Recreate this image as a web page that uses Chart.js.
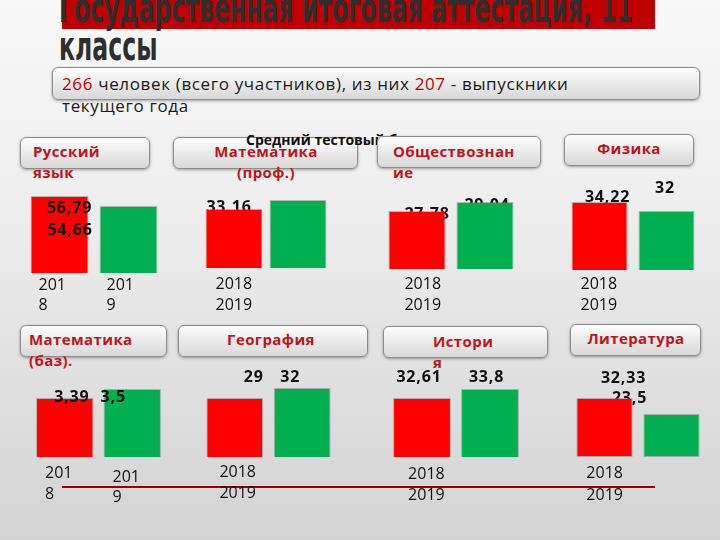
<!DOCTYPE html>
<html><head><meta charset="utf-8">
<script src="https://cdn.jsdelivr.net/npm/chart.js@4.4.1/dist/chart.umd.min.js"></script>
<style>
html,body{margin:0;padding:0;}
body{width:720px;height:540px;position:relative;overflow:hidden;background:linear-gradient(#f8f8f8 0%,#efefef 35%,#d3d3d3 100%);font-family:"Open Sans","Noto Sans",sans-serif;}
.abs{position:absolute;}
#redbar{left:62px;top:0;width:593px;height:29px;background:#c00000;}
#title{left:59px;top:-11px;font-family:"Liberation Sans Narrow","DejaVu Sans Condensed",sans-serif;font-weight:bold;font-size:40px;line-height:38px;color:#2e2e2e;white-space:nowrap;transform-origin:0 0;}
#title span{display:inline-block;}
.box{position:absolute;border:1px solid #8c8c8c;border-radius:6px;background:linear-gradient(#fdfdfd,#d8d8d8);box-shadow:0 1px 3px rgba(0,0,0,0.35);box-sizing:border-box;}
#subtext{left:62px;top:73px;font-size:17px;letter-spacing:0.65px;line-height:22px;color:#1a1a1a;white-space:nowrap;}
.num{color:#c00000}
.btxt{position:absolute;font-weight:bold;font-size:15px;letter-spacing:0.4px;line-height:21px;color:#c0141c;white-space:nowrap;}
#avg{left:246px;top:130px;font-weight:bold;font-size:14px;color:#111;white-space:nowrap;}
#hline{left:62px;top:486px;width:593px;height:2px;background:#a00000;}
canvas{position:absolute;}
</style></head>
<body>
<div id="redbar" class="abs"></div>
<div id="title" class="abs"><span id="t1">Государственная итоговая аттестация, 11</span><br><span id="t2">классы</span></div>
<div class="box" style="left:52px;top:67px;width:648px;height:33px;"></div>
<div id="subtext" class="abs"><span class="num">266</span> человек (всего участников), из них <span class="num">207</span> - выпускники<br>текущего года</div>
<div id="btns"></div>
<div id="hline" class="abs"></div>
<div id="charts"></div>
<script>
// ---- data ----
const subjects = ['Русский язык','Математика (проф.)','Обществознание','Физика','Математика (баз).','География','История','Литература'];
const years = ['2018','2019'];
const scores2018 = [56.79, 33.16, 27.78, 34.22, 3.39, 29, 32.61, 32.33];
const scores2019 = [54.66, 37, 29.04, 32, 3.5, 32, 33.8, 23.5];
const showLabel2019 = [true, false, true, true, true, true, true, true];

// ---- title fit ----
(function(){
  const t1 = document.getElementById('t1');
  const w = t1.getBoundingClientRect().width;
  const s = 574 / w;
  document.getElementById('title').style.transform = `scaleX(${s})`;
})();

// ---- layout (buttons) ----
const buttons = [
  {box:[20,137,130,32], tx:33, ty:141, align:'left', brk:7},
  {box:[173,137,185,32], tx:266, ty:141, align:'center', brk:10},
  {box:[377,136,164,32], tx:393, ty:141, align:'left', brk:12},
  {box:[564,134,130,32], tx:629, ty:138, align:'center', brk:-1},
  {box:[20,325,147,32], tx:29, ty:329, align:'left', brk:10},
  {box:[178,325,190,32], tx:271, ty:329, align:'center', brk:-1},
  {box:[383,326,165,32], tx:433, ty:331, align:'left', brk:6},
  {box:[570,324,131,32], tx:636, ty:328, align:'center', brk:-1}
];
const btnHost = document.getElementById('btns');
buttons.forEach((b,i)=>{
  const box = document.createElement('div');
  box.className='box';
  box.style.cssText=`left:${b.box[0]}px;top:${b.box[1]}px;width:${b.box[2]}px;height:${b.box[3]}px;`;
  btnHost.appendChild(box);
  const t = document.createElement('div');
  t.className='btxt';
  const s = subjects[i];
  const txt = b.brk<0 ? s : s.slice(0,b.brk).trim()+'<br>'+s.slice(b.brk).trim();
  t.innerHTML = txt;
  if(b.align==='center'){ t.style.cssText=`left:${b.tx-150}px;width:300px;text-align:center;top:${b.ty}px;`; }
  else { t.style.cssText=`left:${b.tx}px;top:${b.ty}px;`; }
  btnHost.appendChild(t);
  if(i===1){
    const a = document.createElement('div');
    a.id='avg'; a.className='abs';
    a.textContent='Средний тестовый балл';
    btnHost.appendChild(a);
  }
});

// ---- layout (charts) ----
const rows = [{canvasTop:170, chartTop:180, canvasBottom:320},{canvasTop:362, chartTop:370, canvasBottom:510}];
const panels = [
  {row:0,left:25,w:138,base:273,yMin:40.39,yMax:60.2,bp:0.84,years:'split',ydx:[8,7],ydy:[[12,32],[12,32]],lab:[{dx:10,dy:12,front:true},{dx:-58.5,dy:24,front:true}]},
  {row:0,left:201.5,w:128,base:268,yMin:7.99,yMax:45.53,bp:0.89,years:'stack',ydx:10,ydy:[16,37],lab:[{dx:-5,dy:-2,front:false},{dx:0,dy:-10,front:true}]},
  {row:0,left:382.5,w:136,base:269,yMin:19.66,yMax:32.12,bp:0.84,years:'stack',ydx:16,ydy:[15,36],lab:[{dx:10,dy:3,front:false},{dx:2,dy:3,front:false}]},
  {row:0,left:565.5,w:134,base:270,yMin:17.45,yMax:39.65,bp:0.836,years:'stack',ydx:9,ydy:[14,35],lab:[{dx:8,dy:-5,front:false},{dx:-1.5,dy:-23,front:true}]},
  {row:1,left:30.75,w:135,base:457,yMin:2.669,yMax:3.733,bp:0.85,years:'split',ydx:[9,9],ydy:[[16,37],[20,40]],lab:[{dx:7,dy:-1,front:true},{dx:-19,dy:8,front:true}]},
  {row:1,left:201.25,w:135,base:457,yMin:11.3,yMax:37.4,bp:0.84,years:'stack',ydx:13,ydy:[15,36],lab:[{dx:19,dy:-21,front:true},{dx:-12,dy:-11,front:true}]},
  {row:1,left:388,w:136,base:457,yMin:24.81,yMax:36.31,bp:0.85,years:'stack',ydx:15,ydy:[17,38],lab:[{dx:-3,dy:-21,front:true},{dx:-3.5,dy:-12,front:true}]},
  {row:1,left:571,w:134,base:457,yMin:0,yMax:47.67,bp:0.84,years:'stack',ydx:10,ydy:[16,38],lab:[{dx:19,dy:-20,front:true},{dx:-42,dy:-16,front:false}]}
];

const fmt = v => String(v).replace('.', ',');
const valueFont = 'bold 16px "Open Sans","Noto Sans",sans-serif';
const yearFont = '16px "Open Sans","Noto Sans",sans-serif';

function drawLabels(chart, front){
  const p = chart.options.plugins.slide.panel;
  const idx = chart.options.plugins.slide.index;
  const ctx = chart.ctx;
  const meta = chart.getDatasetMeta(0);
  const vals = chart.data.datasets[0].data;
  ctx.save();
  ctx.font = valueFont;
  ctx.fillStyle = '#111';
  ctx.textAlign = 'center';
  ctx.textBaseline = 'middle';
  ctx.letterSpacing = '0.8px';
  meta.data.forEach((el,j)=>{
    const L = p.lab[j];
    if(L.front!==front) return;
    if(j===1 && !showLabel2019[idx]) return;
    ctx.fillText(fmt(vals[j]), el.x + L.dx, el.y + L.dy);
  });
  ctx.restore();
}
function drawYears(chart){
  const p = chart.options.plugins.slide.panel;
  const ctx = chart.ctx;
  const meta = chart.getDatasetMeta(0);
  const bottom = chart.chartArea.bottom;
  ctx.save();
  ctx.font = yearFont;
  ctx.fillStyle = '#111';
  ctx.textAlign = 'left';
  ctx.textBaseline = 'middle';
  if(p.years==='split'){
    meta.data.forEach((el,j)=>{
      const x = el.x - el.width/2 + p.ydx[j];
      const y = chart.data.labels[j];
      ctx.fillText(y.slice(0,3), x, bottom + p.ydy[j][0]);
      ctx.fillText(y.slice(3), x, bottom + p.ydy[j][1]);
    });
  } else {
    const el = meta.data[0];
    const x = el.x - el.width/2 + p.ydx;
    chart.data.labels.forEach((y,j)=>{
      ctx.fillText(y, x, bottom + p.ydy[j]);
    });
  }
  ctx.restore();
}
const slidePlugin = {
  id:'slide',
  beforeDatasetsDraw(chart){ drawLabels(chart,false); },
  afterDatasetsDraw(chart){ drawLabels(chart,true); drawYears(chart); }
};

const host = document.getElementById('charts');
panels.forEach((p,i)=>{
  const r = rows[p.row];
  const pad = 40;
  const cv = document.createElement('canvas');
  const cw = p.w + 2*pad, ch = r.canvasBottom - r.canvasTop;
  cv.width = cw; cv.height = ch;
  cv.style.left = (p.left - pad) + 'px';
  cv.style.top = r.canvasTop + 'px';
  cv.style.width = cw + 'px'; cv.style.height = ch + 'px';
  host.appendChild(cv);
  new Chart(cv, {
    type:'bar',
    data:{labels:years, datasets:[{data:[scores2018[i], scores2019[i]], backgroundColor:['#ff0000','#00b050'], borderColor:'rgba(110,110,110,0.45)', borderWidth:1, borderSkipped:false, categoryPercentage:1, barPercentage:p.bp}]},
    options:{
      responsive:false, animation:false, devicePixelRatio:1,
      layout:{padding:{left:pad,right:pad,top:r.chartTop - r.canvasTop,bottom:r.canvasBottom - p.base}},
      scales:{x:{display:false}, y:{display:false, min:p.yMin, max:p.yMax}},
      plugins:{legend:{display:false}, tooltip:{enabled:false}, slide:{panel:p, index:i}}
    },
    plugins:[slidePlugin]
  });
});
</script>
</body></html>
